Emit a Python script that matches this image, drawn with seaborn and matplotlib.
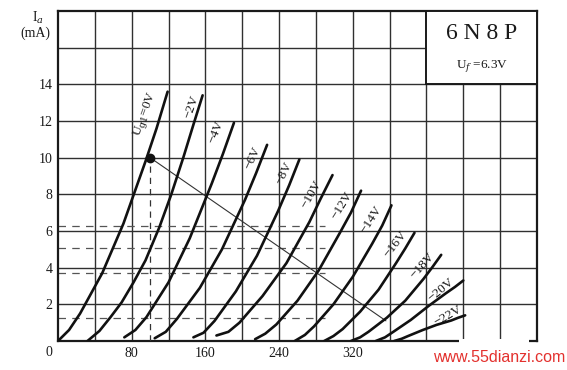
import numpy as np
import pandas as pd
import seaborn as sns
import matplotlib.pyplot as plt
from matplotlib.patches import Rectangle

# Plate curves of the 6N8P
grid_labels = ["U$_{\\rm g1}$=0V", "\u22122V", "\u22124V", "\u22126V", "\u22128V", "\u221210V",
               "\u221212V", "\u221214V", "\u221216V", "\u221218V", "\u221220V", "\u221222V"]

va_0 = [0, 12, 24, 48, 71, 95, 107, 119]
ia_0 = [0, 0.6, 1.5, 3.7, 6.4, 9.8, 11.6, 13.6]
va_2 = [32, 45, 57, 69, 82, 95, 110, 123, 136, 147, 157]
ia_2 = [0, 0.55, 1.3, 2.1, 3.2, 4.4, 6.2, 8.0, 10.0, 11.8, 13.4]
va_4 = [72, 84, 96, 120, 143, 167, 179, 191]
ia_4 = [0.2, 0.6, 1.3, 3.2, 5.6, 8.6, 10.2, 11.9]
va_6 = [105, 117, 129, 154, 178, 203, 215, 227]
ia_6 = [0.15, 0.5, 1.2, 2.9, 5.0, 7.7, 9.15, 10.7]
va_8 = [147, 158, 170, 193, 216, 239, 251, 262]
ia_8 = [0.2, 0.45, 1.1, 2.7, 4.65, 7.1, 8.5, 9.9]
va_10 = [172, 185, 197, 222, 248, 273, 285, 298]
ia_10 = [0.3, 0.5, 1.0, 2.45, 4.25, 6.5, 7.75, 9.05]
va_12 = [214, 225, 237, 260, 283, 306, 318, 329]
ia_12 = [0.1, 0.4, 0.9, 2.2, 3.85, 5.9, 7.0, 8.2]
va_14 = [257, 268, 278, 299, 320, 341, 352, 362]
ia_14 = [0, 0.33, 0.8, 2.0, 3.5, 5.3, 6.3, 7.4]
va_16 = [289, 299, 309, 328, 348, 367, 377, 387]
ia_16 = [0, 0.27, 0.65, 1.6, 2.8, 4.25, 5.05, 5.9]
va_18 = [318, 328, 337, 357, 377, 397, 406, 416]
ia_18 = [0, 0.2, 0.5, 1.27, 2.2, 3.4, 4.0, 4.7]
va_20 = [345, 355, 364, 383, 402, 421, 431, 440]
ia_20 = [0, 0.2, 0.5, 1.15, 1.9, 2.6, 2.95, 3.3]
va_22 = [365, 373, 380, 396, 411, 427, 434, 442]
ia_22 = [0, 0.12, 0.27, 0.6, 0.88, 1.12, 1.26, 1.4]

# where the bias labels sit (V, mA) and their angle
label_v = [95, 145, 172, 211, 245, 275, 308, 340, 366, 396, 416, 423]
label_i = [12.4, 12.8, 11.4, 10.0, 9.15, 8.0, 7.4, 6.6, 5.3, 4.1, 2.8, 1.35]
label_rot = [70, 70, 68, 65, 63, 60, 58, 57, 52, 48, 40, 30]

# working point and load line
work_v, work_i = 100, 10
load_v = [100, 356]
load_i = [10, 1.1]
dash_levels = [1.25, 3.7, 5.05, 6.3]

xtick_vals = [0, 80, 160, 240, 320]
ytick_vals = [2, 4, 6, 8, 10, 12, 14]

curves_v = [va_0, va_2, va_4, va_6, va_8, va_10, va_12, va_14, va_16, va_18, va_20, va_22]
curves_i = [ia_0, ia_2, ia_4, ia_6, ia_8, ia_10, ia_12, ia_14, ia_16, ia_18, ia_20, ia_22]

sns.set_theme(style="white")
plt.rcParams['font.family'] = ['Liberation Serif', 'DejaVu Serif']
plt.rcParams['mathtext.fontset'] = 'dejavuserif'

W, H = 567, 370
fig = plt.figure(figsize=(W / 100, H / 100), dpi=100)
fig.patch.set_facecolor('white')
ax = fig.add_axes([58 / W, 1 - 341 / H, (537 - 58) / W, (341 - 11) / H])
ax.set_xlim(0, 520)
ax.set_ylim(0, 18)
ax.set_facecolor('white')

ink = '#1a1a1a'
for v in range(40, 520, 40):
    ax.axvline(v, color='#303030', lw=1.0, zorder=1)
for i in range(2, 18, 2):
    ax.axhline(i, color='#303030', lw=1.0, zorder=1)
for lev in dash_levels:
    ax.plot([0, 290], [lev, lev], color='#555555', lw=0.9, ls=(0, (6, 5)), zorder=1)

for s in ax.spines.values():
    s.set_color(ink)
    s.set_linewidth(1.6)

# title box in the top right corner
ax.add_patch(Rectangle((400, 14), 120, 4, facecolor='white', edgecolor=ink, lw=1.4, zorder=3))
ax.text(460, 16.75, "6 N 8 P", ha='center', va='center', fontsize=17, color=ink, zorder=4)
ax.text(460, 15.0, "U$_f$ =6.3V", ha='center', va='center', fontsize=9.5, color=ink, zorder=4)

# plate curves
for v, i in zip(curves_v, curves_i):
    df = pd.DataFrame({'Ua': v, 'Ia': i})
    sns.lineplot(data=df, x='Ua', y='Ia', ax=ax, color='#111111', linewidth=1.9,
                 estimator=None, sort=False, zorder=5)

for txt, lv, li, r in zip(grid_labels, label_v, label_i, label_rot):
    ax.text(lv, li, txt, rotation=r, ha='center', va='center', fontsize=9.5, color=ink, zorder=6)

ax.plot(load_v, load_i, color='#333333', lw=0.8, zorder=4)
ax.plot([work_v, work_v], [0, work_i], color='#333333', lw=0.9, ls=(0, (5, 4)), zorder=4)
ax.plot(work_v, work_i, 'o', ms=6, color='#111111', zorder=7)

ax.set_xticks(xtick_vals)
ax.set_xticklabels(['' if v == 0 else str(v) for v in xtick_vals])
ax.set_yticks(ytick_vals)
ax.set_yticklabels([str(v) for v in ytick_vals])
ax.tick_params(length=0, labelsize=10, colors=ink, pad=4)
ax.set_xlabel('')
ax.set_ylabel('')

fig.text(49 / W, 1 - 352 / H, "0", ha='center', va='center', fontsize=10, color=ink)
fig.text(38 / W, 1 - 18 / H, "I$_a$", ha='center', va='center', fontsize=10, color=ink)
fig.text(35 / W, 1 - 33 / H, "(mA)", ha='center', va='center', fontsize=10, color=ink)

# watermark patch at the bottom right
fig.patches.append(Rectangle((459 / W, 0), (529 - 459) / W, 1 - 339 / H, transform=fig.transFigure,
                             facecolor='white', edgecolor='none', zorder=10))
fig.text(565 / W, 1 - 357 / H, "www.55dianzi.com", ha='right', va='center', fontsize=11.5,
         color='#e3312e', family=['Liberation Sans', 'DejaVu Sans'], zorder=11)

fig.savefig('out.png', dpi=100, facecolor='white')
